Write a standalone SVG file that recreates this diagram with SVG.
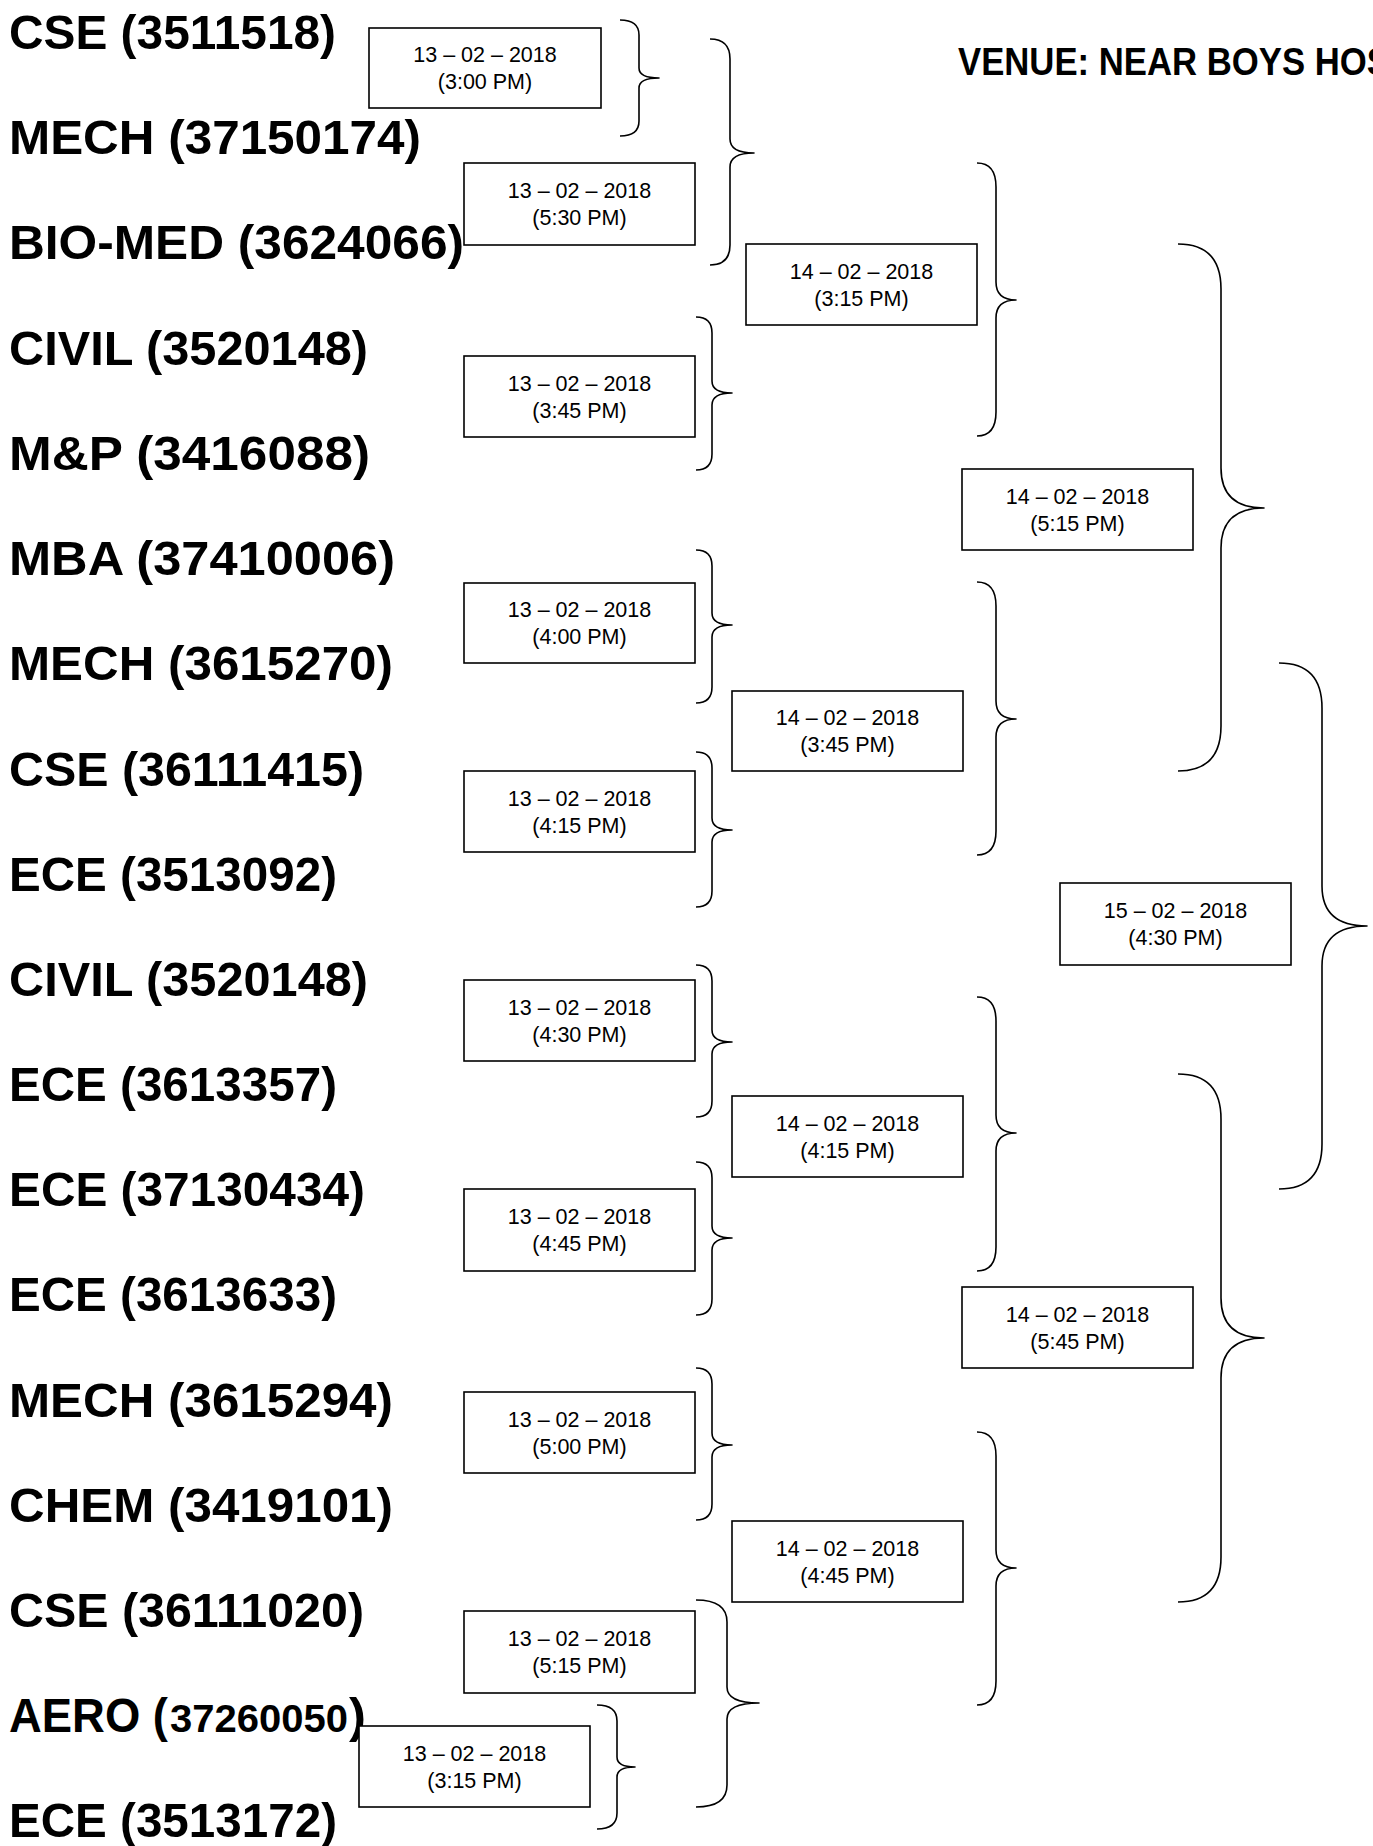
<svg xmlns="http://www.w3.org/2000/svg" width="1373" height="1846" viewBox="0 0 1373 1846">
<style>
.team{font-family:"Liberation Sans",Arial,sans-serif;font-weight:bold;font-size:49px;fill:#000}
.title{font-family:"Liberation Sans",Arial,sans-serif;font-weight:bold;font-size:38px;fill:#000}
.box rect{fill:#fff;stroke:#000;stroke-width:1.6}
.box text{font-family:"Liberation Sans",Arial,sans-serif;font-size:21.5px;fill:#000;text-anchor:middle}
.brace path{fill:none;stroke:#000;stroke-width:1.6;stroke-linejoin:round}
</style>
<rect width="1373" height="1846" fill="#fff"/>
<g id="title"><text class="title" x="958" y="75" textLength="432" lengthAdjust="spacingAndGlyphs">VENUE: NEAR BOYS HOS</text></g>
<g id="teams">
<g id="t1"><text class="team" x="9" y="49" textLength="327" lengthAdjust="spacingAndGlyphs">CSE (3511518)</text></g>
<g id="t2"><text class="team" x="9" y="154" textLength="412" lengthAdjust="spacingAndGlyphs">MECH (37150174)</text></g>
<g id="t3"><text class="team" x="9" y="259" textLength="455" lengthAdjust="spacingAndGlyphs">BIO-MED (3624066)</text></g>
<g id="t4"><text class="team" x="9" y="365" textLength="359" lengthAdjust="spacingAndGlyphs">CIVIL (3520148)</text></g>
<g id="t5"><text class="team" x="9" y="470" textLength="361" lengthAdjust="spacingAndGlyphs">M&amp;P (3416088)</text></g>
<g id="t6"><text class="team" x="9" y="575" textLength="386" lengthAdjust="spacingAndGlyphs">MBA (37410006)</text></g>
<g id="t7"><text class="team" x="9" y="680" textLength="384" lengthAdjust="spacingAndGlyphs">MECH (3615270)</text></g>
<g id="t8"><text class="team" x="9" y="786" textLength="355" lengthAdjust="spacingAndGlyphs">CSE (36111415)</text></g>
<g id="t9"><text class="team" x="9" y="891" textLength="328" lengthAdjust="spacingAndGlyphs">ECE (3513092)</text></g>
<g id="t10"><text class="team" x="9" y="996" textLength="359" lengthAdjust="spacingAndGlyphs">CIVIL (3520148)</text></g>
<g id="t11"><text class="team" x="9" y="1101" textLength="328" lengthAdjust="spacingAndGlyphs">ECE (3613357)</text></g>
<g id="t12"><text class="team" x="9" y="1206" textLength="356" lengthAdjust="spacingAndGlyphs">ECE (37130434)</text></g>
<g id="t13"><text class="team" x="9" y="1311" textLength="328" lengthAdjust="spacingAndGlyphs">ECE (3613633)</text></g>
<g id="t14"><text class="team" x="9" y="1417" textLength="384" lengthAdjust="spacingAndGlyphs">MECH (3615294)</text></g>
<g id="t15"><text class="team" x="9" y="1522" textLength="384" lengthAdjust="spacingAndGlyphs">CHEM (3419101)</text></g>
<g id="t16"><text class="team" x="9" y="1627" textLength="355" lengthAdjust="spacingAndGlyphs">CSE (36111020)</text></g>
<g id="t17"><text class="team" x="9" y="1732" textLength="159" lengthAdjust="spacingAndGlyphs">AERO (</text><text class="team" x="170" y="1732" style="font-size:38.5px" textLength="178" lengthAdjust="spacingAndGlyphs">37260050</text><text class="team" x="349" y="1732" textLength="17" lengthAdjust="spacingAndGlyphs">)</text></g>
<g id="t18"><text class="team" x="9" y="1837" textLength="328" lengthAdjust="spacingAndGlyphs">ECE (3513172)</text></g>
</g>
<g id="matches">
<g id="mA" class="box"><rect x="369" y="28" width="232" height="80"/><text x="485" y="62">13 – 02 – 2018</text><text x="485" y="89">(3:00 PM)</text></g>
<g id="mB" class="box"><rect x="464" y="163" width="231" height="82"/><text x="579.5" y="198">13 – 02 – 2018</text><text x="579.5" y="225">(5:30 PM)</text></g>
<g id="mC" class="box"><rect x="464" y="356" width="231" height="81"/><text x="579.5" y="390.5">13 – 02 – 2018</text><text x="579.5" y="417.5">(3:45 PM)</text></g>
<g id="mD" class="box"><rect x="464" y="583" width="231" height="80"/><text x="579.5" y="617">13 – 02 – 2018</text><text x="579.5" y="644">(4:00 PM)</text></g>
<g id="mE" class="box"><rect x="464" y="771" width="231" height="81"/><text x="579.5" y="805.5">13 – 02 – 2018</text><text x="579.5" y="832.5">(4:15 PM)</text></g>
<g id="mF" class="box"><rect x="464" y="980" width="231" height="81"/><text x="579.5" y="1014.5">13 – 02 – 2018</text><text x="579.5" y="1041.5">(4:30 PM)</text></g>
<g id="mG" class="box"><rect x="464" y="1189" width="231" height="82"/><text x="579.5" y="1224">13 – 02 – 2018</text><text x="579.5" y="1251">(4:45 PM)</text></g>
<g id="mH" class="box"><rect x="464" y="1392" width="231" height="81"/><text x="579.5" y="1426.5">13 – 02 – 2018</text><text x="579.5" y="1453.5">(5:00 PM)</text></g>
<g id="mI" class="box"><rect x="464" y="1611" width="231" height="82"/><text x="579.5" y="1646">13 – 02 – 2018</text><text x="579.5" y="1673">(5:15 PM)</text></g>
<g id="mJ" class="box"><rect x="359" y="1726" width="231" height="81"/><text x="474.5" y="1760.5">13 – 02 – 2018</text><text x="474.5" y="1787.5">(3:15 PM)</text></g>
<g id="mK" class="box"><rect x="746" y="244" width="231" height="81"/><text x="861.5" y="278.5">14 – 02 – 2018</text><text x="861.5" y="305.5">(3:15 PM)</text></g>
<g id="mL" class="box"><rect x="732" y="691" width="231" height="80"/><text x="847.5" y="725">14 – 02 – 2018</text><text x="847.5" y="752">(3:45 PM)</text></g>
<g id="mM" class="box"><rect x="732" y="1096" width="231" height="81"/><text x="847.5" y="1130.5">14 – 02 – 2018</text><text x="847.5" y="1157.5">(4:15 PM)</text></g>
<g id="mN" class="box"><rect x="732" y="1521" width="231" height="81"/><text x="847.5" y="1555.5">14 – 02 – 2018</text><text x="847.5" y="1582.5">(4:45 PM)</text></g>
<g id="mO" class="box"><rect x="962" y="469" width="231" height="81"/><text x="1077.5" y="503.5">14 – 02 – 2018</text><text x="1077.5" y="530.5">(5:15 PM)</text></g>
<g id="mP" class="box"><rect x="962" y="1287" width="231" height="81"/><text x="1077.5" y="1321.5">14 – 02 – 2018</text><text x="1077.5" y="1348.5">(5:45 PM)</text></g>
<g id="mQ" class="box"><rect x="1060" y="883" width="231" height="82"/><text x="1175.5" y="918">15 – 02 – 2018</text><text x="1175.5" y="945">(4:30 PM)</text></g>
</g>
<g id="connectors" class="brace">
<path d="M620 20 Q639 20 639 35 L639 68 Q639 78 659 78 Q639 78 639 88 L639 121 Q639 136 620 136"/>
<path d="M710 39 Q730 39 730 59 L730 139 Q730 153 754 153 Q730 153 730 167 L730 245 Q730 265 710 265"/>
<path d="M696 317 Q712 317 712 333 L712 381 Q712 393 732 393 Q712 393 712 405 L712 454 Q712 470 696 470"/>
<path d="M696 550 Q712 550 712 566 L712 613 Q712 625 732 625 Q712 625 712 637 L712 687 Q712 703 696 703"/>
<path d="M696 752 Q712 752 712 768 L712 818 Q712 830 732 830 Q712 830 712 842 L712 891 Q712 907 696 907"/>
<path d="M696 965 Q712 965 712 981 L712 1030 Q712 1042 732 1042 Q712 1042 712 1054 L712 1101 Q712 1117 696 1117"/>
<path d="M696 1162 Q712 1162 712 1178 L712 1226 Q712 1238 732 1238 Q712 1238 712 1250 L712 1299 Q712 1315 696 1315"/>
<path d="M696 1368 Q712 1368 712 1384 L712 1433 Q712 1445 732 1445 Q712 1445 712 1457 L712 1504 Q712 1520 696 1520"/>
<path d="M696 1600 Q727 1600 727 1622 L727 1687 Q727 1703 759 1703 Q727 1703 727 1719 L727 1785 Q727 1807 696 1807"/>
<path d="M597 1705 Q617 1705 617 1721 L617 1757 Q617 1767 635 1767 Q617 1767 617 1777 L617 1813 Q617 1829 597 1829"/>
<path d="M977 163 Q996 163 996 187 L996 282 Q996 300 1016 300 Q996 300 996 318 L996 412 Q996 436 977 436"/>
<path d="M977 582 Q996 582 996 606 L996 701 Q996 719 1016 719 Q996 719 996 737 L996 831 Q996 855 977 855"/>
<path d="M977 997 Q996 997 996 1021 L996 1115 Q996 1133 1016 1133 Q996 1133 996 1151 L996 1247 Q996 1271 977 1271"/>
<path d="M977 1432 Q996 1432 996 1456 L996 1550 Q996 1568 1016 1568 Q996 1568 996 1586 L996 1681 Q996 1705 977 1705"/>
<path d="M1178 244 Q1221 244 1221 289 L1221 468 Q1221 508 1264 508 Q1221 508 1221 548 L1221 726 Q1221 771 1178 771"/>
<path d="M1178 1074 Q1221 1074 1221 1119 L1221 1298 Q1221 1338 1264 1338 Q1221 1338 1221 1378 L1221 1557 Q1221 1602 1178 1602"/>
<path d="M1279 663 Q1322 663 1322 708 L1322 886 Q1322 926 1367 926 Q1322 926 1322 966 L1322 1144 Q1322 1189 1279 1189"/>
</g>
</svg>
